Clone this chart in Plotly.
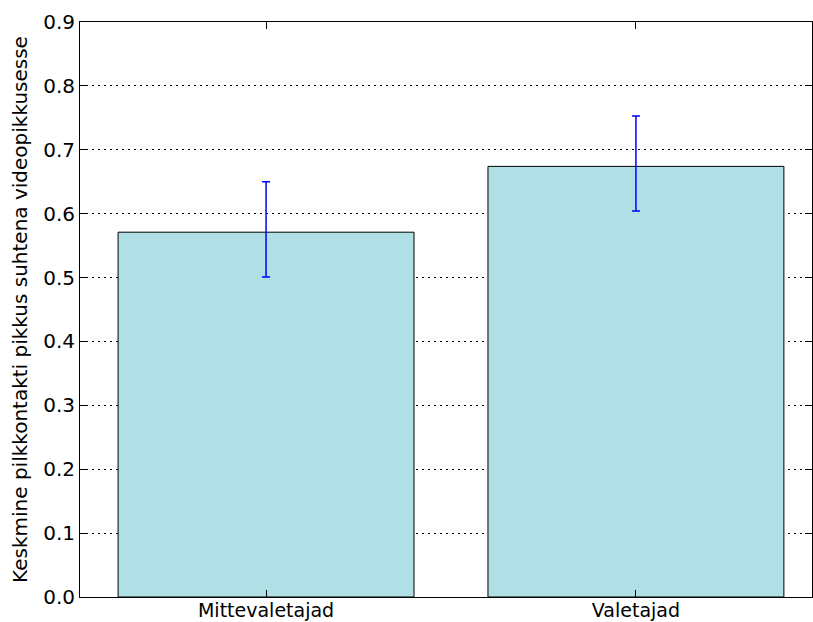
import plotly.graph_objects as go

categories = ["Mittevaletajad", "Valetajad"]
means = [0.571, 0.674]
err_plus = [0.079, 0.079]
err_minus = [0.070, 0.070]
y_ticks = [0.0, 0.1, 0.2, 0.3, 0.4, 0.5, 0.6, 0.7, 0.8, 0.9]

font = dict(family="DejaVu Sans", size=20, color="black")

fig = go.Figure(
    go.Bar(
        x=[0, 1],
        y=means,
        width=0.8,
        marker=dict(color="#B0E0E6", line=dict(color="black", width=1)),
        error_y=dict(
            type="data",
            symmetric=False,
            array=err_plus,
            arrayminus=err_minus,
            color="blue",
            thickness=1.5,
            width=4,
        ),
    )
)

fig.update_layout(
    width=813,
    height=622,
    margin=dict(l=80, r=1, t=22, b=25),
    plot_bgcolor="white",
    paper_bgcolor="white",
    font=font,
    showlegend=False,
    xaxis=dict(
        range=[-0.503, 1.476],
        tickvals=[0, 1],
        ticktext=categories,
        ticks="inside",
        ticklen=7,
        tickcolor="black",
        showline=True,
        linecolor="black",
        linewidth=1,
        mirror="allticks",
        showgrid=False,
        zeroline=False,
        tickfont=dict(family="DejaVu Sans", size=19, color="black"),
        ticklabelstandoff=-4,
        automargin=False,
    ),
    yaxis=dict(
        range=[0, 0.9],
        tickvals=y_ticks,
        tickformat=".1f",
        ticks="inside",
        ticklen=7,
        tickcolor="black",
        showline=True,
        linecolor="black",
        linewidth=1,
        mirror="allticks",
        showgrid=True,
        gridcolor="black",
        griddash="1.5px,4.5px",
        gridwidth=1,
        zeroline=False,
        tickfont=font,
        automargin=False,
        title=dict(
            text="Keskmine pilkkontakti pikkus suhtena videopikkusesse",
            font=font,
            standoff=10,
        ),
    ),
)

fig.write_html("out.html")
